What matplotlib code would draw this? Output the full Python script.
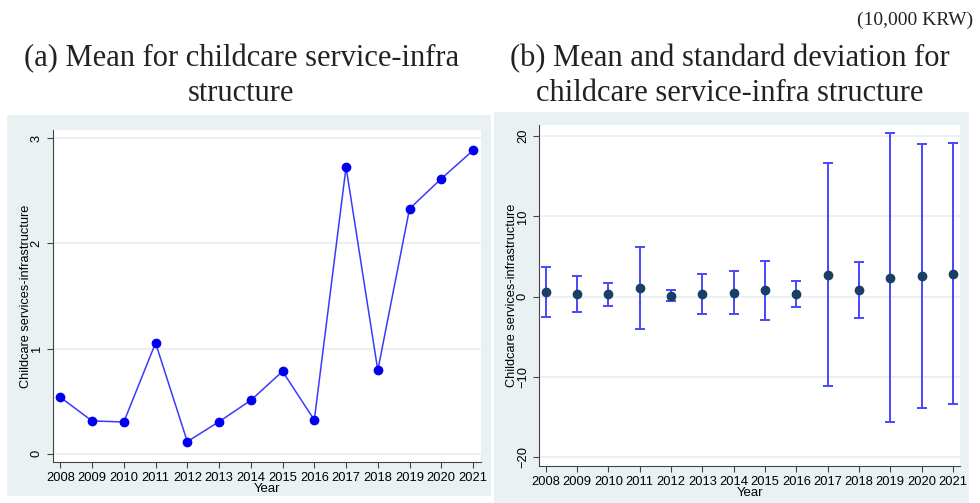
import matplotlib.pyplot as plt
from matplotlib.patches import Rectangle

years = [2008, 2009, 2010, 2011, 2012, 2013, 2014, 2015, 2016, 2017, 2018, 2019, 2020, 2021]
mean_vals = [0.536, 0.311, 0.301, 1.053, 0.114, 0.304, 0.507, 0.783, 0.320,
             2.727, 0.793, 2.331, 2.617, 2.886]
sd_vals = [3.12, 2.27, 1.41, 5.13, 0.66, 2.47, 2.66, 3.66, 1.66,
           13.92, 3.51, 18.01, 16.45, 16.21]
ylabel = "Childcare services-infrastructure"
title_a = "(a) Mean for childcare service-infra\nstructure"
title_b = "(b) Mean and standard deviation for\nchildcare service-infra structure"
unit = "(10,000 KRW)"

bg = "#eaf1f3"
grid_c = "#e6eef1"
tick_font = "Liberation Sans"
title_font = "Liberation Serif"

fig = plt.figure(figsize=(9.8, 5.03), dpi=100)

# panel backgrounds
fig.add_artist(Rectangle((0.0071, 0.0139), 0.4939, 0.757, transform=fig.transFigure,
                         facecolor=bg, edgecolor="none", zorder=0))
fig.add_artist(Rectangle((0.504, 0.0), 0.4847, 0.777, transform=fig.transFigure,
                         facecolor=bg, edgecolor="none", zorder=0))


def style_axes(ax, yticks):
    ax.set_facecolor("white")
    for s in ["top", "right"]:
        ax.spines[s].set_visible(False)
    for s in ["left", "bottom"]:
        ax.spines[s].set_color("#444444")
        ax.spines[s].set_linewidth(0.8)
    ax.set_xticks(years)
    ax.set_yticks(yticks)
    ax.grid(axis="y", color=grid_c, linewidth=1.2)
    ax.set_axisbelow(True)
    ax.tick_params(direction="out", length=4, width=0.8, color="#444444", labelsize=9.3)
    for lab in ax.get_xticklabels() + ax.get_yticklabels():
        lab.set_fontfamily(tick_font)
    for lab in ax.get_yticklabels():
        lab.set_rotation(90)
        lab.set_va("center")
    ax.set_xlabel("Year", fontsize=9.5, family=tick_font, labelpad=-1)
    ax.set_ylabel(ylabel, fontsize=9.2, family=tick_font, labelpad=-1)


# (a) mean line
ax1 = fig.add_axes([0.0541, 0.0815, 0.4367, 0.660])
ax1.plot(years, mean_vals, color="#3a3aff", linewidth=1.1, marker="o",
         markersize=6, markerfacecolor="#0000f0", markeredgecolor="#0000f0", zorder=3)
ax1.set_xlim(2008 - 0.23, 2021 + 0.25)
ax1.set_ylim(-0.08, 3.08)
style_axes(ax1, [0, 1, 2, 3])

# (b) mean with sd error bars
ax2 = fig.add_axes([0.5503, 0.0736, 0.4293, 0.678])
ax2.errorbar(years, mean_vals, yerr=sd_vals, fmt="o", color="#1a3f66",
             markersize=6, ecolor="#4848ff", elinewidth=1.4, capsize=3.5,
             capthick=1.4, zorder=3)
ax2.set_xlim(2008 - 0.21, 2021 + 0.23)
ax2.set_ylim(-21.1, 21.4)
style_axes(ax2, [-20, -10, 0, 10, 20])

# titles
fig.text(0.246, 0.849, title_a, ha="center", va="center", fontsize=22,
         family=title_font, color="#222222", linespacing=1.25)
fig.text(0.745, 0.849, title_b, ha="center", va="center", fontsize=22,
         family=title_font, color="#222222", linespacing=1.25)
fig.text(0.993, 0.96, unit, ha="right", va="center", fontsize=14,
         family=title_font, color="#222222")

fig.savefig("out.png", dpi=100)
